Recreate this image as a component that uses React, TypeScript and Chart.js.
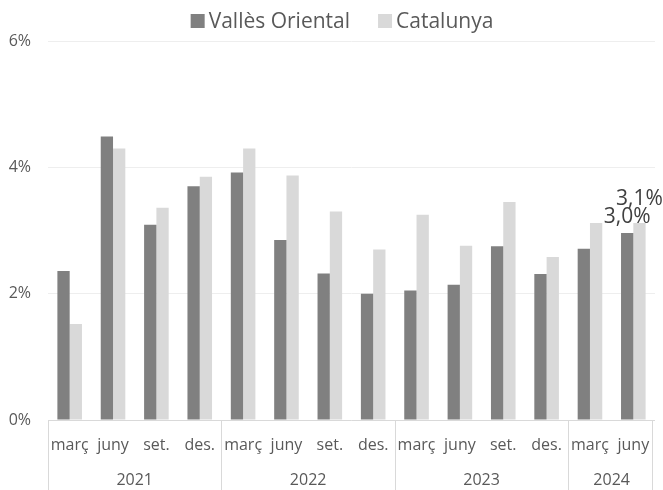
import React, { useEffect, useRef } from "react";
import { Chart, registerables } from "chart.js";

Chart.register(...registerables);

const months = ["març", "juny", "set.", "des.", "març", "juny", "set.", "des.", "març", "juny", "set.", "des.", "març", "juny"];
const years = ["2021", "2021", "2021", "2021", "2022", "2022", "2022", "2022", "2023", "2023", "2023", "2023", "2024", "2024"];
const vallesOriental = [2.36, 4.49, 3.09, 3.70, 3.92, 2.85, 2.32, 2.00, 2.05, 2.14, 2.75, 2.31, 2.71, 2.96];
const catalunya = [1.52, 4.30, 3.36, 3.85, 4.30, 3.87, 3.30, 2.70, 3.25, 2.76, 3.45, 2.58, 3.12, 3.12];
const seriesNames = ["Vallès Oriental", "Catalunya"];
const seriesColors = ["#808080", "#d9d9d9"];
const yTicks = [0, 2, 4, 6];

const FONT = "'Open Sans', 'DejaVu Sans', sans-serif";
const TEXT = "#595959";
const AXIS = "#d9d9d9";

const fmt = (v: number) => v.toFixed(1).replace(".", ",") + "%";

const customPlugin = {
  id: "custom",
  afterDraw(chart: any) {
    const ctx = chart.ctx as CanvasRenderingContext2D;
    const area = chart.chartArea;
    const x = chart.scales.x;
    ctx.save();

    // axis line
    ctx.strokeStyle = AXIS;
    ctx.lineWidth = 1;
    ctx.beginPath();
    ctx.moveTo(area.left, Math.round(area.bottom) + 0.5);
    ctx.lineTo(area.right, Math.round(area.bottom) + 0.5);
    ctx.stroke();

    // month labels
    ctx.fillStyle = TEXT;
    ctx.font = `16px ${FONT}`;
    ctx.textAlign = "center";
    ctx.textBaseline = "alphabetic";
    months.forEach((m, i) => {
      ctx.fillText(m, x.getPixelForValue(i), area.bottom + 30);
    });

    // year groups + separators
    const groups: { label: string; start: number; end: number }[] = [];
    years.forEach((y, i) => {
      const g = groups[groups.length - 1];
      if (g && g.label === y) g.end = i;
      else groups.push({ label: y, start: i, end: i });
    });
    const boundary = (i: number) => {
      if (i <= 0) return area.left;
      if (i >= years.length) return area.right;
      return (x.getPixelForValue(i - 1) + x.getPixelForValue(i)) / 2;
    };
    ctx.beginPath();
    groups.forEach((g) => {
      const l = boundary(g.start);
      const r = boundary(g.end + 1);
      ctx.fillText(g.label, (l + r) / 2, area.bottom + 65);
      ctx.moveTo(Math.round(l) + 0.5, area.bottom);
      ctx.lineTo(Math.round(l) + 0.5, chart.height);
    });
    const rr = boundary(years.length);
    ctx.moveTo(Math.round(rr) - 2.5, area.bottom);
    ctx.lineTo(Math.round(rr) - 2.5, chart.height);
    ctx.stroke();

    // data labels on last category
    const last = months.length - 1;
    ctx.fillStyle = "#404040";
    ctx.font = `21px ${FONT}`;
    const offsets = [10, 18];
    chart.data.datasets.forEach((ds: any, di: number) => {
      const el = chart.getDatasetMeta(di).data[last];
      ctx.fillText(fmt(ds.data[last]), el.x, el.y - offsets[di]);
    });

    // legend
    ctx.font = `21px ${FONT}`;
    ctx.textAlign = "left";
    const box = 14, gapBox = 4, gapItem = 28;
    const widths = seriesNames.map((n) => ctx.measureText(n).width);
    const total = widths.reduce((a, w) => a + box + gapBox + w, 0) + gapItem * (seriesNames.length - 1);
    let cx = 342 - total / 2;
    seriesNames.forEach((n, i) => {
      ctx.fillStyle = seriesColors[i];
      ctx.fillRect(cx, 14, box, box);
      cx += box + gapBox;
      ctx.fillStyle = TEXT;
      ctx.fillText(n, cx, 28);
      cx += widths[i] + gapItem;
    });

    ctx.restore();
  },
};

export default function App() {
  const ref = useRef<HTMLCanvasElement>(null);
  useEffect(() => {
    if (!ref.current) return;
    const chart = new Chart(ref.current, {
      type: "bar",
      data: {
        labels: months.map((m, i) => `${m} ${years[i]}`),
        datasets: [
          { label: seriesNames[0], data: vallesOriental, backgroundColor: seriesColors[0], categoryPercentage: 0.567, barPercentage: 1 },
          { label: seriesNames[1], data: catalunya, backgroundColor: seriesColors[1], categoryPercentage: 0.567, barPercentage: 1 },
        ],
      },
      options: {
        animation: false,
        responsive: false,
        maintainAspectRatio: false,
        layout: { padding: { top: 41, bottom: 70, left: 0, right: 8 } },
        plugins: { legend: { display: false }, tooltip: { enabled: false } },
        scales: {
          x: { display: false },
          y: {
            min: 0,
            max: 6,
            afterBuildTicks: (s: any) => {
              s.ticks = yTicks.map((v) => ({ value: v }));
            },
            afterFit: (s: any) => {
              s.width = 48;
            },
            border: { display: false },
            grid: { color: "#eeeeee", drawTicks: false },
            ticks: {
              padding: 17,
              color: TEXT,
              font: { family: FONT, size: 16 },
              callback: (v: any) => `${v}%`,
            },
          },
        },
      },
      plugins: [customPlugin],
    });
    return () => chart.destroy();
  }, []);
  return (
    <div style={{ position: "absolute", left: 0, top: 0, width: 663, height: 490, background: "#fff" }}>
      <canvas ref={ref} width={663} height={490} style={{ width: 663, height: 490, display: "block" }} />
    </div>
  );
}
